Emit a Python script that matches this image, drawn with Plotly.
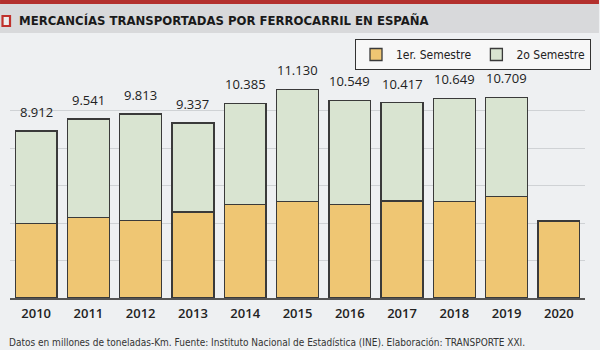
import plotly.graph_objects as go

years = ["2010", "2011", "2012", "2013", "2014", "2015", "2016", "2017", "2018", "2019", "2020"]
first_sem = [3990, 4300, 4140, 4590, 4980, 5150, 4980, 5170, 5150, 5400, 4110]
totals = [8912, 9541, 9813, 9337, 10385, 11130, 10549, 10417, 10649, 10709, None]
total_labels = ["8.912", "9.541", "9.813", "9.337", "10.385", "11.130", "10.549", "10.417", "10.649", "10.709", ""]
second_sem = [t - f if t is not None else None for t, f in zip(totals, first_sem)]

W, H = 600, 350
L, R, T, B = 10, 14, 60, 52
PW, PH = W - L - R, H - T - B


def px(x):
    return (x - L) / PW


def py(y):
    return (H - B - y) / PH


Y_MAX = PH * 2000 / 37.5

fig = go.Figure()
fig.add_trace(go.Bar(x=years, y=first_sem, name="1er. Semestre",
                     marker=dict(color="#efc673", line=dict(color="#3a3a3a", width=1.3))))
fig.add_trace(go.Bar(x=years, y=second_sem, name="2o Semestre",
                     marker=dict(color="#d9e4d1", line=dict(color="#3a3a3a", width=1.3))))

annotations = []
for i, (t, lab) in enumerate(zip(totals, total_labels)):
    if t is None:
        continue
    annotations.append(dict(x=i, xref="x", yref="y", y=t, text=lab, showarrow=False, yanchor="bottom", yshift=8,
                            font=dict(family="Open Sans, sans-serif", size=13, color="#222222", weight=500)))

annotations.append(dict(xref="paper", yref="paper", x=px(17), y=py(21), xanchor="left", yanchor="middle",
                        text="<b>MERCANCÍAS TRANSPORTADAS POR FERROCARRIL EN ESPAÑA</b>", showarrow=False,
                        font=dict(family="DejaVu Sans Condensed, sans-serif", size=13, color="#1a1a1a")))
annotations.append(dict(xref="paper", yref="paper", x=px(7), y=py(342), xanchor="left", yanchor="middle",
                        text="Datos en millones de toneladas-Km. Fuente: Instituto Nacional de Estadística (INE). Elaboración: TRANSPORTE XXI.",
                        showarrow=False,
                        font=dict(family="DejaVu Sans Condensed, sans-serif", size=10, color="#333333")))

shapes = [
    dict(type="rect", xref="paper", yref="paper", x0=px(0), x1=px(600), y0=py(4), y1=py(0),
         fillcolor="#b3302d", line=dict(width=0), layer="below"),
    dict(type="rect", xref="paper", yref="paper", x0=px(0), x1=px(600), y0=py(33), y1=py(4),
         fillcolor="#d8d9db", line=dict(width=0), layer="below"),
    dict(type="rect", xref="paper", yref="paper", x0=px(2.5), x1=px(10), y0=py(26), y1=py(16),
         fillcolor="#eeeeee", line=dict(color="#c0312c", width=2.2)),
]

fig.update_layout(
    width=W, height=H,
    margin=dict(l=L, r=R, t=T, b=B),
    paper_bgcolor="#eef0f2",
    plot_bgcolor="#eef0f2",
    barmode="stack",
    bargap=0.2,
    showlegend=True,
    legend=dict(orientation="h", xanchor="right", x=px(591), yanchor="top", y=py(39),
                traceorder="normal",
                bgcolor="#f7f7f7", bordercolor="#333333", borderwidth=1,
                font=dict(family="DejaVu Sans Condensed, sans-serif", size=12, color="#222222"),
                itemwidth=30, tracegroupgap=0),
    xaxis=dict(type="category", showgrid=False, showline=True, linecolor="#555555", linewidth=1.5, ticks="",
               tickfont=dict(family="Open Sans, sans-serif", size=13, color="#222222", weight=600),
               range=[-0.5, 10.5], fixedrange=True, ticklabelstandoff=3),
    yaxis=dict(range=[0, Y_MAX], tickvals=[2000, 4000, 6000, 8000, 10000], showticklabels=False,
               showgrid=True, gridcolor="#cfd2d5", gridwidth=1, zeroline=False, showline=False, ticks=""),
    annotations=annotations,
    shapes=shapes,
)

fig.write_html("out.html")
